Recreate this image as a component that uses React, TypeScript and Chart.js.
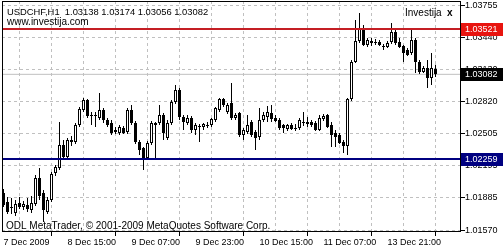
import React, { useEffect, useRef } from 'react';
import { Chart, registerables } from 'chart.js';

Chart.register(...registerables);

const opens = [
  1.01930, 1.01842, 1.01794, 1.01735, 1.01832, 1.01794, 1.01813, 1.01765, 1.01823, 1.02075,
  1.01930, 1.01745, 1.01862, 1.02124, 1.02172, 1.02396, 1.02279, 1.02444, 1.02425, 1.02590,
  1.02736, 1.02833, 1.02687, 1.02677, 1.02658, 1.02736, 1.02638, 1.02609, 1.02522, 1.02512,
  1.02561, 1.02522, 1.02736, 1.02609, 1.02425, 1.02367, 1.02269, 1.02415, 1.02590, 1.02609,
  1.02687, 1.02464, 1.02609, 1.02813, 1.02930, 1.02668, 1.02609, 1.02658, 1.02541, 1.02570,
  1.02570, 1.02590, 1.02590, 1.02638, 1.02736, 1.02842, 1.02716, 1.02804, 1.02658, 1.02706,
  1.02493, 1.02522, 1.02619, 1.02522, 1.02473, 1.02638, 1.02668, 1.02706, 1.02658, 1.02638,
  1.02590, 1.02551, 1.02590, 1.02561, 1.02561, 1.02619, 1.02600, 1.02619, 1.02609, 1.02541,
  1.02648, 1.02687, 1.02590, 1.02512, 1.02493, 1.02425, 1.02386, 1.02842, 1.03202, 1.03406,
  1.03532, 1.03367, 1.03406, 1.03386, 1.03396, 1.03357, 1.03347, 1.03396, 1.03493, 1.03396,
  1.03357, 1.03318, 1.03289, 1.03415, 1.03202, 1.03105, 1.03143, 1.03046, 1.03138,
];

const highs = [
  1.01968, 1.01891, 1.01881, 1.01862, 1.01891, 1.01852, 1.01881, 1.01900, 1.02104, 1.02172,
  1.01959, 1.01891, 1.02133, 1.02201, 1.02619, 1.02444, 1.02464, 1.02483, 1.02609, 1.02765,
  1.02852, 1.02842, 1.02716, 1.02716, 1.02901, 1.02755, 1.02658, 1.02638, 1.02570, 1.02590,
  1.02580, 1.02755, 1.02784, 1.02629, 1.02444, 1.02376, 1.02434, 1.02629, 1.02619, 1.02784,
  1.02706, 1.02638, 1.02833, 1.02978, 1.02949, 1.02687, 1.02687, 1.02677, 1.02609, 1.02600,
  1.02609, 1.02619, 1.02658, 1.02765, 1.02852, 1.02852, 1.02804, 1.02998, 1.02706, 1.02716,
  1.02561, 1.02687, 1.02638, 1.02541, 1.02755, 1.02716, 1.02774, 1.02784, 1.02687, 1.02658,
  1.02600, 1.02600, 1.02609, 1.02600, 1.02658, 1.02716, 1.02668, 1.02638, 1.02629, 1.02687,
  1.02697, 1.02697, 1.02619, 1.02541, 1.02512, 1.02444, 1.02852, 1.03221, 1.03609, 1.03677,
  1.03561, 1.03435, 1.03435, 1.03425, 1.03415, 1.03376, 1.03406, 1.03580, 1.03512, 1.03435,
  1.03367, 1.03338, 1.03512, 1.03435, 1.03221, 1.03163, 1.03221, 1.03289, 1.03174,
];

const lows = [
  1.01794, 1.01726, 1.01726, 1.01706, 1.01774, 1.01765, 1.01745, 1.01735, 1.01803, 1.01862,
  1.01648, 1.01726, 1.01842, 1.02095, 1.02153, 1.02250, 1.02269, 1.02386, 1.02405, 1.02570,
  1.02716, 1.02658, 1.02590, 1.02570, 1.02638, 1.02609, 1.02570, 1.02493, 1.02503, 1.02493,
  1.02503, 1.02503, 1.02590, 1.02405, 1.02299, 1.02153, 1.02250, 1.02396, 1.02250, 1.02590,
  1.02444, 1.02444, 1.02590, 1.02794, 1.02638, 1.02541, 1.02590, 1.02512, 1.02493, 1.02425,
  1.02541, 1.02561, 1.02570, 1.02619, 1.02716, 1.02765, 1.02697, 1.02638, 1.02638, 1.02473,
  1.02444, 1.02503, 1.02473, 1.02347, 1.02444, 1.02619, 1.02619, 1.02619, 1.02619, 1.02541,
  1.02512, 1.02532, 1.02541, 1.02532, 1.02541, 1.02580, 1.02570, 1.02570, 1.02532, 1.02532,
  1.02629, 1.02561, 1.02376, 1.02376, 1.02405, 1.02318, 1.02299, 1.02823, 1.03192, 1.03386,
  1.03357, 1.03347, 1.03357, 1.03367, 1.03357, 1.03318, 1.03338, 1.03376, 1.03367, 1.03338,
  1.03202, 1.03260, 1.03270, 1.03095, 1.03085, 1.03095, 1.02949, 1.02978, 1.03056,
];

const closes = [
  1.01813, 1.01745, 1.01784, 1.01823, 1.01794, 1.01823, 1.01774, 1.01832, 1.02075, 1.01900,
  1.01765, 1.01862, 1.02114, 1.02182, 1.02396, 1.02279, 1.02444, 1.02425, 1.02590, 1.02745,
  1.02833, 1.02677, 1.02677, 1.02687, 1.02736, 1.02638, 1.02590, 1.02512, 1.02541, 1.02570,
  1.02512, 1.02736, 1.02609, 1.02425, 1.02347, 1.02250, 1.02415, 1.02609, 1.02609, 1.02687,
  1.02512, 1.02609, 1.02813, 1.02930, 1.02668, 1.02619, 1.02658, 1.02541, 1.02590, 1.02580,
  1.02600, 1.02580, 1.02648, 1.02755, 1.02842, 1.02784, 1.02784, 1.02658, 1.02687, 1.02493,
  1.02541, 1.02590, 1.02493, 1.02464, 1.02638, 1.02687, 1.02716, 1.02648, 1.02629, 1.02561,
  1.02561, 1.02590, 1.02551, 1.02551, 1.02638, 1.02609, 1.02619, 1.02590, 1.02541, 1.02658,
  1.02677, 1.02570, 1.02493, 1.02473, 1.02415, 1.02386, 1.02842, 1.03202, 1.03406, 1.03532,
  1.03367, 1.03415, 1.03386, 1.03396, 1.03367, 1.03347, 1.03386, 1.03493, 1.03386, 1.03347,
  1.03289, 1.03270, 1.03415, 1.03202, 1.03105, 1.03143, 1.03046, 1.03143, 1.03082,
];

// one label every 16 hourly bars, starting at bar 0
const timeLabels = ['7 Dec 2009', '8 Dec 15:00', '9 Dec 07:00', '9 Dec 23:00', '10 Dec 15:00', '11 Dec 07:00', '13 Dec 21:00'];
const priceTicks = [1.03755, 1.0344, 1.0313, 1.0282, 1.02505, 1.02195, 1.01885, 1.0157];

const resistanceLevel = 1.03521;
const supportLevel = 1.02259;
const symbolTitle = 'USDCHF,H1';
const siteName = 'www.investija.com';
const indicatorName = 'Investija';
const copyrightText = 'ODL MetaTrader, \u00A9 2001-2009 MetaQuotes Software Corp.';

const FONT = "'Liberation Sans', Arial, sans-serif";
const X_MIN = -0.375;
const X_MAX = 114.375;
const Y_MIN = 1.01551;
const Y_MAX = 1.03794;

export default function App() {
  const canvasRef = useRef<HTMLCanvasElement | null>(null);

  useEffect(() => {
    document.body.style.margin = '0';
    const canvas = canvasRef.current;
    if (!canvas) return;

    const n = opens.length;
    const lastPrice = closes[n - 1];
    const idx = opens.map((_, i) => i);
    const wickData = idx.map((i) => ({ x: i, y: [lows[i], highs[i]] }));
    const bodyData = idx.map((i) => ({ x: i, y: [opens[i], closes[i]] }));
    const hLine = (v: number) => [
      { x: X_MIN, y: v },
      { x: X_MAX, y: v },
    ];

    const overlay = {
      id: 'mtOverlay',
      afterDraw(chart: any) {
        const { ctx, chartArea: a } = chart;
        const ys = chart.scales.y;
        ctx.save();
        // frame
        ctx.strokeStyle = '#000';
        ctx.lineWidth = 1;
        ctx.setLineDash([]);
        ctx.strokeRect(a.left + 0.5, a.top + 0.5, a.right - a.left - 1, a.bottom - a.top - 1);

        // header texts
        ctx.fillStyle = '#000';
        ctx.textBaseline = 'alphabetic';
        ctx.textAlign = 'left';
        ctx.font = `9.4px ${FONT}`;
        const f = (v: number) => v.toFixed(5);
        ctx.fillText(
          `${symbolTitle}  ${f(opens[n - 1])} ${f(highs[n - 1])} ${f(lows[n - 1])} ${f(closes[n - 1])}`,
          7,
          15
        );
        ctx.font = `10px ${FONT}`;
        ctx.fillText(siteName, 7, 25);
        ctx.fillText(indicatorName, 405, 16);
        ctx.font = `bold 10px ${FONT}`;
        ctx.fillText('x', 447, 16);
        ctx.font = `10px ${FONT}`;
        ctx.fillText(copyrightText, 6, 229);

        // price boxes on the axis
        const boxes: [number, string][] = [
          [resistanceLevel, '#e8140f'],
          [supportLevel, '#000080'],
          [lastPrice, '#000000'],
        ];
        ctx.font = `9px ${FONT}`;
        ctx.textBaseline = 'middle';
        for (const [v, c] of boxes) {
          const py = Math.round(ys.getPixelForValue(v));
          ctx.fillStyle = c;
          ctx.fillRect(a.right, py - 6, chart.width - a.right, 13);
          ctx.fillStyle = '#fff';
          ctx.fillText(v.toFixed(5), a.right + 4, py + 0.5);
        }
        ctx.restore();
      },
    };

    const chart = new Chart(canvas, {
      type: 'bar',
      data: {
        datasets: [
          {
            type: 'line',
            data: hLine(resistanceLevel),
            borderColor: '#c41e24',
            borderWidth: 2,
            pointRadius: 0,
            order: 0,
          } as any,
          {
            type: 'line',
            data: hLine(supportLevel),
            borderColor: '#000080',
            borderWidth: 2,
            pointRadius: 0,
            order: 0,
          } as any,
          {
            type: 'bar',
            data: bodyData as any,
            backgroundColor: (c: any) => (closes[c.dataIndex] >= opens[c.dataIndex] ? '#ffffff' : '#000000'),
            borderColor: '#000000',
            borderWidth: 1,
            borderSkipped: false,
            barThickness: 3,
            grouped: false,
            inflateAmount: 0,
            minBarLength: 1,
            order: 1,
          } as any,
          {
            type: 'bar',
            data: wickData as any,
            backgroundColor: '#000000',
            borderWidth: 0,
            barThickness: 1,
            grouped: false,
            inflateAmount: 0,
            order: 2,
          } as any,
          {
            type: 'line',
            data: hLine(lastPrice),
            borderColor: '#c0c0c0',
            borderWidth: 1,
            pointRadius: 0,
            order: 3,
          } as any,
        ],
      },
      options: {
        animation: false,
        responsive: true,
        maintainAspectRatio: false,
        devicePixelRatio: 1,
        layout: { padding: { left: 2, top: 1, right: 0, bottom: 0 } },
        plugins: { legend: { display: false }, tooltip: { enabled: false } },
        events: [],
        scales: {
          x: {
            type: 'linear',
            min: X_MIN,
            max: X_MAX,
            offset: false,
            afterBuildTicks: (s: any) => {
              const t = [];
              for (let v = 0; v <= 112; v += 8) t.push({ value: v });
              s.ticks = t;
            },
            afterFit: (s: any) => {
              s.height = 18;
              s.paddingLeft = 0;
              s.paddingRight = 0;
            },
            ticks: {
              autoSkip: false,
              maxRotation: 0,
              minRotation: 0,
              align: 'start',
              padding: 1,
              color: '#000',
              font: { family: FONT, size: 9 },
              callback: (v: any) => {
                const n2 = Number(v);
                return n2 % 16 === 0 ? timeLabels[n2 / 16] ?? '' : '';
              },
            },
            grid: {
              color: (c: any) => (c.tick && c.tick.value === 0 ? 'rgba(0,0,0,0)' : '#c0c0c0'),
              lineWidth: 1,
              drawTicks: true,
              tickLength: 4,
              tickColor: (c: any) => (c.tick && c.tick.value % 16 === 0 ? '#000' : 'rgba(0,0,0,0)'),
              tickBorderDash: [2, 0],
            },
            border: { display: false, dash: [3, 3] },
          } as any,
          y: {
            type: 'linear',
            position: 'right',
            min: Y_MIN,
            max: Y_MAX,
            beginAtZero: false,
            afterBuildTicks: (s: any) => {
              s.ticks = priceTicks.map((v) => ({ value: v }));
            },
            afterFit: (s: any) => {
              s.width = 42;
              s.paddingTop = 0;
              s.paddingBottom = 0;
            },
            ticks: {
              autoSkip: false,
              padding: 0,
              color: '#000',
              font: { family: FONT, size: 9 },
              callback: (v: any) => Number(v).toFixed(5),
            },
            grid: {
              color: '#c0c0c0',
              lineWidth: 1,
              drawTicks: true,
              tickLength: 4,
              tickColor: '#000',
              tickBorderDash: [2, 0],
            },
            border: { display: false, dash: [3, 3] },
          } as any,
        },
      },
      plugins: [overlay],
    } as any);

    return () => chart.destroy();
  }, []);

  return (
    <div style={{ width: 503, height: 250, position: 'relative', background: '#fff' }}>
      <canvas ref={canvasRef} />
    </div>
  );
}
